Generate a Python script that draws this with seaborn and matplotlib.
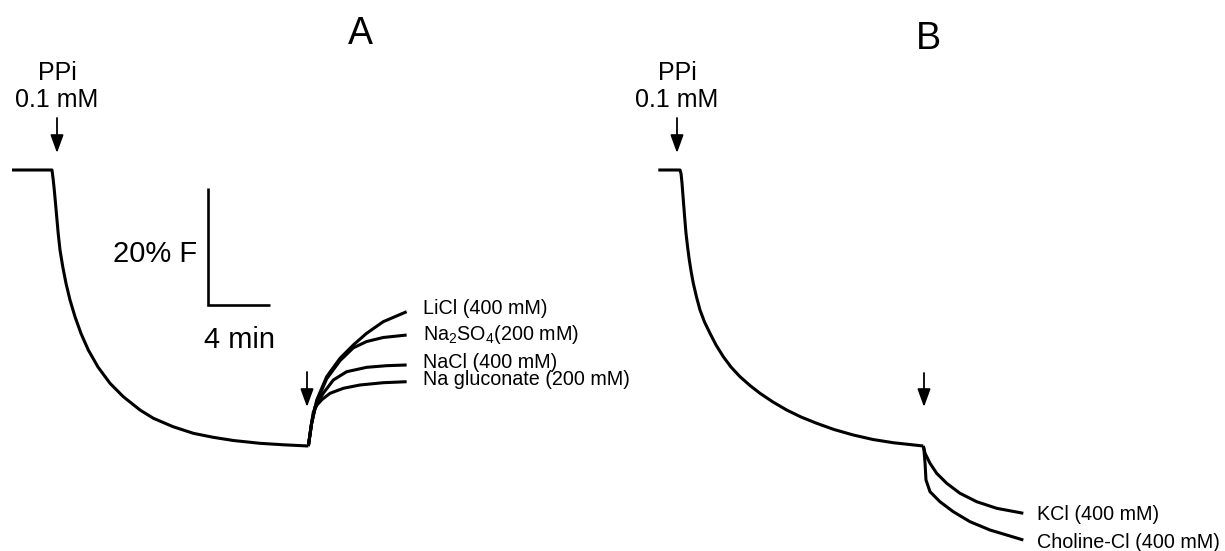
import matplotlib
matplotlib.use("Agg")
import matplotlib.pyplot as plt
import pandas as pd
import seaborn as sns

# ---------------------------------------------------------------
# Traces: time after PPi addition (min) and fluorescence (% of start)
# ---------------------------------------------------------------

# Panel A: PPi-induced quench
a_main_t = [-2.58, 0.00, 0.065, 0.129, 0.213, 0.303, 0.400, 0.516, 0.697, 0.903,
            1.161, 1.484, 1.871, 2.342, 2.968, 3.742, 4.60, 5.68, 6.54, 7.81,
            9.12, 10.39, 11.70, 13.42, 14.92, 16.54]
a_main_f = [100.0, 100.0, 98.63, 97.09, 94.70, 92.02, 89.15, 86.32, 83.42, 80.63,
            77.78, 74.92, 72.05, 69.23, 66.32, 63.54, 61.25, 58.97, 57.56, 56.12,
            54.99, 54.31, 53.76, 53.28, 53.03, 52.82]

# Panel A: recovery after salt addition
a_salt_names = ["LiCl (400 mM)", r"$\mathregular{Na_2SO_4}$(200 mM)",
                "NaCl (400 mM)", "Na gluconate (200 mM)"]
licl_t = [16.54, 16.75, 17.08, 17.72, 18.58, 19.44, 20.30, 21.37, 22.88]
licl_f = [52.82, 56.70, 60.68, 64.67, 67.81, 70.09, 72.09, 74.07, 75.78]
na2so4_t = [16.54, 16.75, 17.08, 17.72, 18.58, 19.44, 20.30, 21.37, 22.88]
na2so4_f = [52.82, 56.70, 60.40, 64.30, 67.40, 69.60, 70.68, 71.37, 71.79]
nacl_t = [16.54, 16.75, 16.97, 17.50, 18.15, 19.01, 20.30, 21.59, 22.88]
nacl_f = [52.82, 56.70, 59.54, 61.83, 64.10, 65.52, 66.27, 66.55, 66.67]
nagluc_t = [16.54, 16.70, 16.86, 17.10, 17.42, 17.94, 18.79, 19.87, 21.37, 22.88]
nagluc_f = [52.82, 56.00, 58.63, 59.83, 60.77, 61.83, 62.68, 63.25, 63.64, 63.81]

# Panel B: PPi-induced quench
b_main_t = [-1.40, 0.00, 0.065, 0.129, 0.213, 0.297, 0.387, 0.490, 0.600, 0.723,
            0.858, 1.065, 1.290, 1.581, 1.935, 2.323, 2.794, 3.290, 3.871, 4.516,
            5.161, 6.000, 6.884, 7.806, 8.819, 9.935, 11.181, 12.452, 13.761, 15.697]
b_main_f = [100.0, 100.0, 99.40, 97.78, 94.87, 92.05, 89.18, 86.84, 84.62, 82.56,
            80.63, 78.29, 76.07, 74.02, 72.09, 70.09, 68.09, 66.32, 64.67, 63.16,
            61.83, 60.34, 58.97, 57.78, 56.70, 55.64, 54.70, 53.93, 53.38, 52.82]

# Panel B: further quench after salt addition
b_salt_names = ["KCl (400 mM)", "Choline-Cl (400 mM)"]
kcl_t = [15.70, 15.81, 16.13, 16.56, 17.21, 18.06, 19.14, 20.43, 22.15]
kcl_f = [52.82, 51.57, 49.86, 48.15, 46.44, 44.74, 43.30, 42.17, 41.32]
chol_t = [15.70, 15.74, 15.81, 15.87, 16.13, 16.77, 17.63, 18.71, 20.00, 22.15]
chol_f = [52.82, 52.14, 49.86, 47.01, 45.01, 43.30, 41.59, 39.88, 38.46, 36.75]

# Scale bar sizes
bar_percent = 20
bar_minutes = 4


def traces_frame(pieces):
    rows = []
    for name, ts, fs in pieces:
        for t, f in zip(ts, fs):
            rows.append({"trace": name, "time": t, "fluor": f})
    return pd.DataFrame(rows)


df_a = traces_frame([("main", a_main_t, a_main_f),
                     ("LiCl", licl_t, licl_f),
                     ("Na2SO4", na2so4_t, na2so4_f),
                     ("NaCl", nacl_t, nacl_f),
                     ("Na gluconate", nagluc_t, nagluc_f)])
df_b = traces_frame([("main", b_main_t, b_main_f),
                     ("KCl", kcl_t, kcl_f),
                     ("Choline-Cl", chol_t, chol_f)])

sns.set_theme(style="white")
plt.rcParams["font.family"] = ["Liberation Sans", "DejaVu Sans"]
plt.rcParams["mathtext.default"] = "regular"
plt.rcParams["text.color"] = "black"

W, H = 1225, 551
fig = plt.figure(figsize=(W / 100, H / 100), dpi=100)
fig.patch.set_facecolor("white")

PX_PER_MIN = 15.5
PX_PER_PCT = 5.85
BASE_Y = 170  # pixel row of the 100 % baseline


def fx(x):
    return x / W


def fy(y):
    return 1 - y / H


def make_axes(left_px, right_px, zero_px):
    ax = fig.add_axes([fx(left_px), 0, (right_px - left_px) / W, 1])
    ax.set_xlim((left_px - zero_px) / PX_PER_MIN, (right_px - zero_px) / PX_PER_MIN)
    ax.set_ylim(100 - (H - BASE_Y) / PX_PER_PCT, 100 + BASE_Y / PX_PER_PCT)
    ax.set_axis_off()
    return ax


ax_a = make_axes(0, 615, 52)
ax_b = make_axes(615, W, 680)

for ax, df in ((ax_a, df_a), (ax_b, df_b)):
    sns.lineplot(data=df, x="time", y="fluor", units="trace", estimator=None,
                 sort=False, color="black", lw=2.2, ax=ax, legend=False,
                 solid_joinstyle="round", solid_capstyle="butt")

# Scale bar (panel A)
bar_t0, bar_f0 = 10.06, 76.92
ax_a.plot([bar_t0, bar_t0, bar_t0 + bar_minutes],
          [bar_f0 + bar_percent, bar_f0, bar_f0],
          color="black", lw=1.9, solid_joinstyle="miter", solid_capstyle="butt")
fig.text(fx(197), fy(262), f"{bar_percent}% F", ha="right", va="baseline", fontsize=21)
fig.text(fx(240), fy(348), f"{bar_minutes} min", ha="center", va="baseline", fontsize=21)

# Panel letters
fig.text(fx(360), fy(44), "A", ha="center", va="baseline", fontsize=27)
fig.text(fx(928), fy(49), "B", ha="center", va="baseline", fontsize=27)

# PPi additions
for x in (57, 677):
    fig.text(fx(x), fy(80), "PPi", ha="center", va="baseline", fontsize=18)
    fig.text(fx(x), fy(107), "0.1 mM", ha="center", va="baseline", fontsize=18)


def down_arrow(x, y_top, y_tip):
    fig.add_artist(matplotlib.patches.FancyArrowPatch(
        (fx(x), fy(y_top)), (fx(x), fy(y_tip)), transform=fig.transFigure,
        arrowstyle="-|>,head_length=0.55,head_width=0.2", mutation_scale=20,
        color="black", lw=1.3, shrinkA=0, shrinkB=0))


down_arrow(57, 118, 153)
down_arrow(677, 118, 153)
down_arrow(307, 372, 407)
down_arrow(924, 373, 407)

# Salt labels
for name, y in zip(a_salt_names, (314, 339.5, 367.5, 385)):
    fig.text(fx(423), fy(y), name, ha="left", va="baseline", fontsize=14.2)
for name, y in zip(b_salt_names, (520, 548)):
    fig.text(fx(1037), fy(y), name, ha="left", va="baseline", fontsize=14.2)

fig.savefig("out.png", dpi=100, facecolor="white")
